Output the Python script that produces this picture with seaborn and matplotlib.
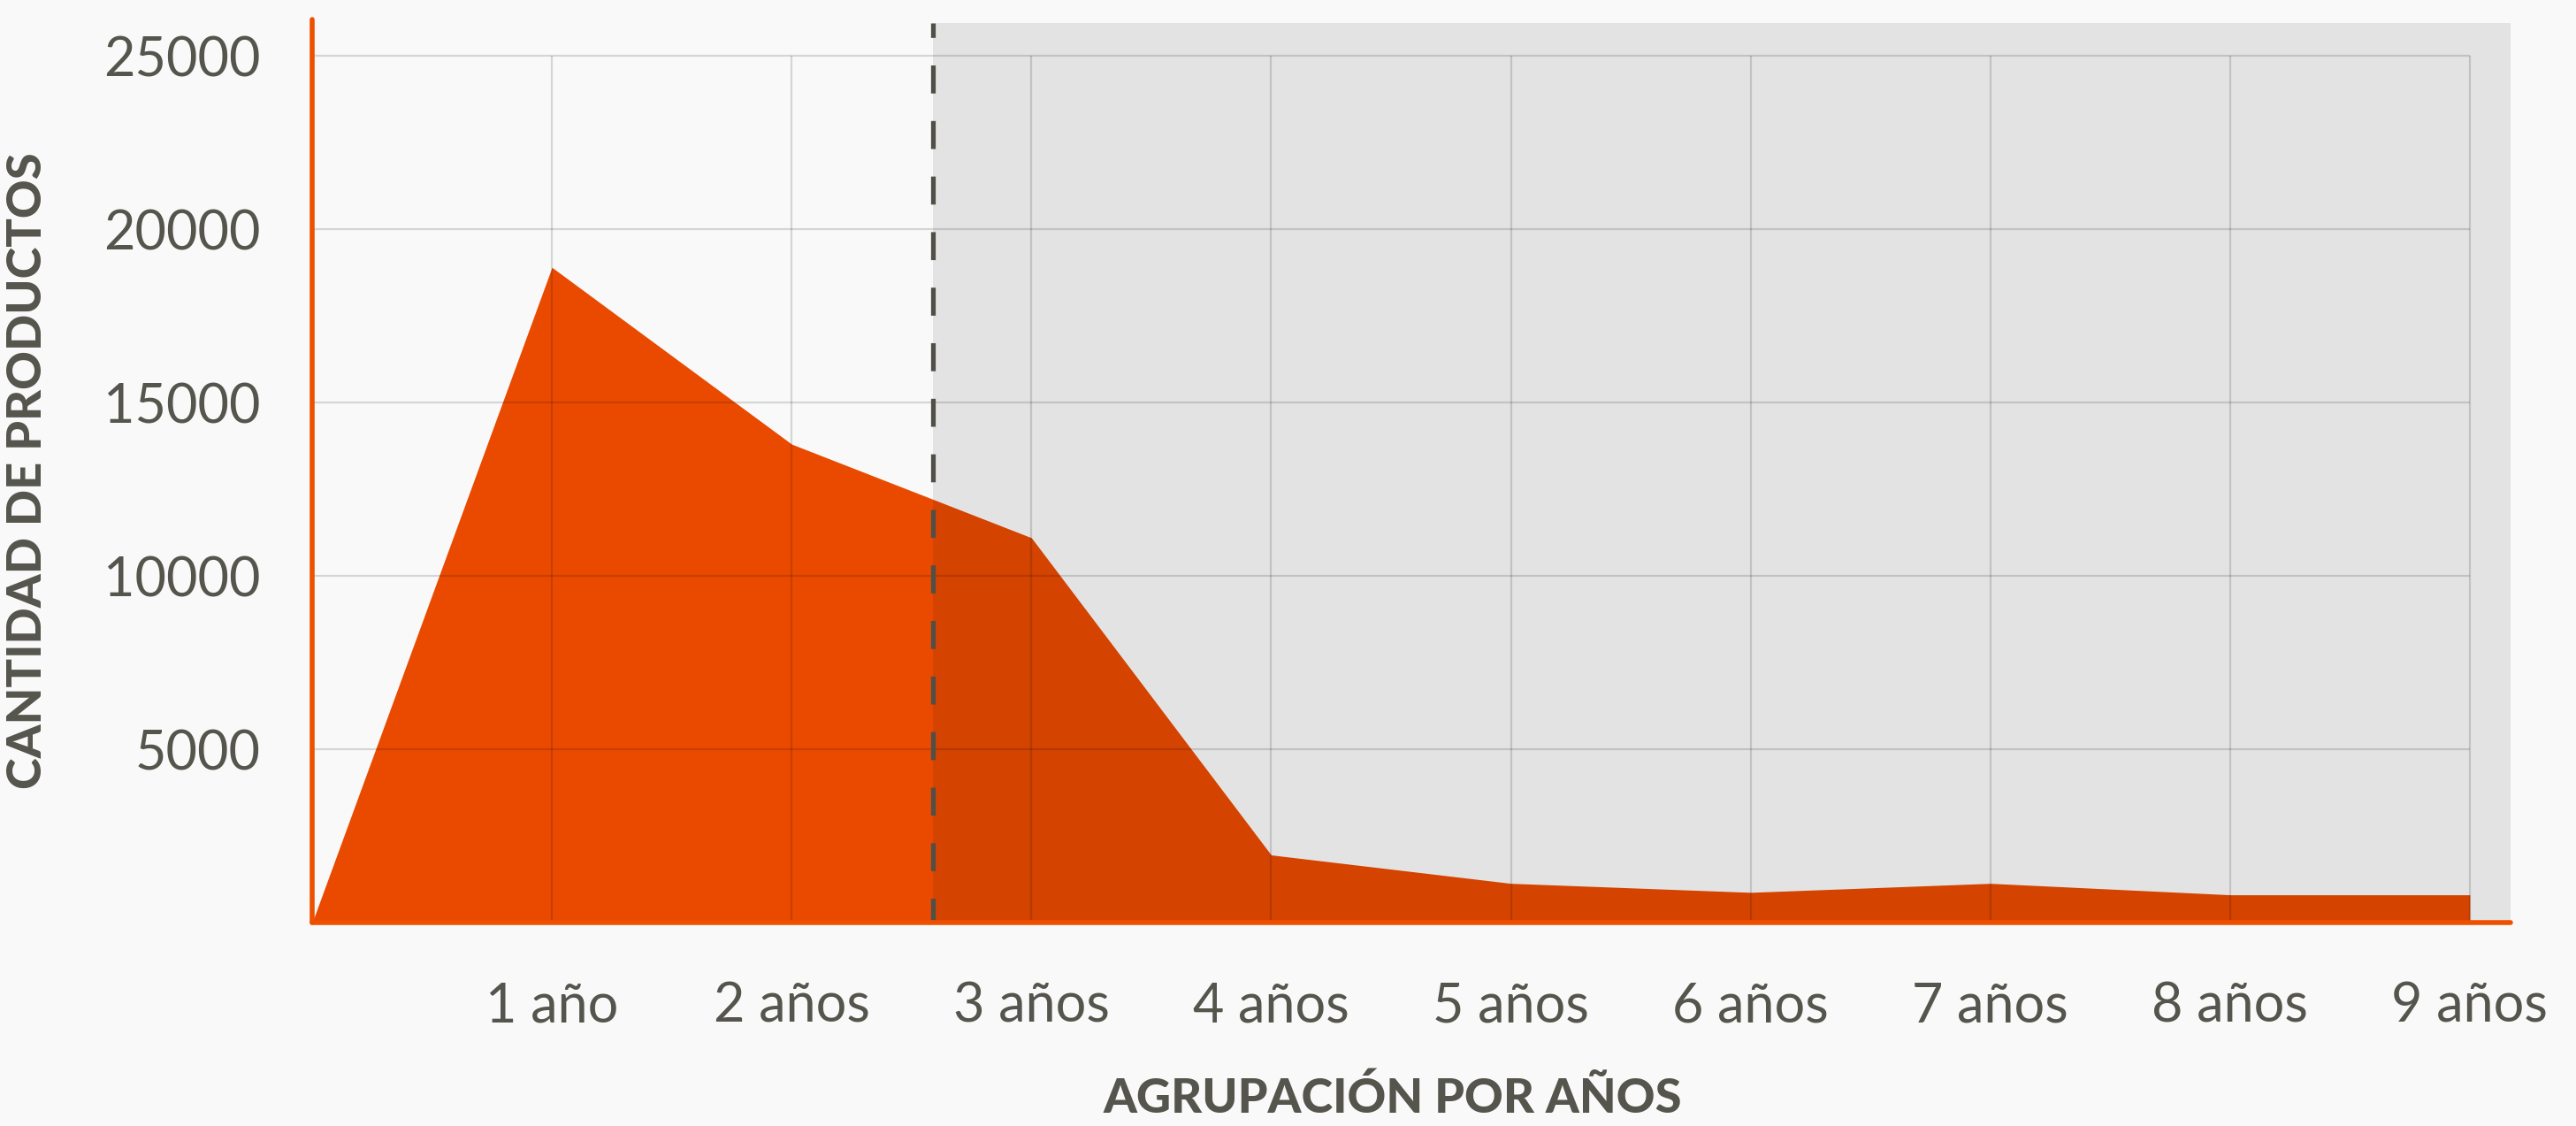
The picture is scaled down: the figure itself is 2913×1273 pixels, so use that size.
import matplotlib
matplotlib.use("Agg")
import matplotlib.pyplot as plt
import seaborn as sns
import pandas as pd

# -- data
years      = [0, 1, 2, 3, 4, 5, 6, 7, 8, 9]
products   = [0, 18900, 13800, 11100, 1950, 1130, 870, 1130, 800, 800]
tick_years = [1, 2, 3, 4, 5, 6, 7, 8, 9]
tick_names = ["1 año", "2 años", "3 años", "4 años", "5 años",
              "6 años", "7 años", "8 años", "9 años"]
y_ticks    = [5000, 10000, 15000, 20000, 25000]
cutoff     = 2.59

df = pd.DataFrame({"years": years, "products": products})

sns.set_theme(style="white")
plt.rcParams["font.family"] = ["Lato", "DejaVu Sans"]

BG     = "#f9f9f9"
ORANGE = "#e94a00"
SPINE  = "#ee5000"
TEXT   = "#55554d"

fig = plt.figure(figsize=(14.565, 6.365), dpi=200, facecolor=BG)
ax = fig.add_axes([0.1212, 0.1807, 0.8534, 0.8020])
ax.set_facecolor(BG)

# area
sns.lineplot(data=df, x="years", y="products", ax=ax, linewidth=0, color=ORANGE)
ax.fill_between(df["years"], df["products"], color=ORANGE, linewidth=0, zorder=1)
ax.plot([0, 9], [0, 0], color="#dd1a00", linewidth=1.6, zorder=5)

# shaded zone after cutoff
ax.axvspan(cutoff, 9.17, ymin=0, ymax=0.996, color="black", alpha=0.085,
           linewidth=0, zorder=2)

# grid
ax.hlines(y_ticks, 0, 9, color="black", alpha=0.14, linewidth=0.8, zorder=3)
ax.vlines(tick_years, 0, 25000, color="black", alpha=0.14, linewidth=0.8, zorder=3)

# cutoff line (drawn from the top down)
ax.plot([cutoff, cutoff], [25950, 0], color="#505048", linewidth=1.9,
        linestyle=(2.9, (6.0, 5.9)), solid_capstyle="butt", zorder=4)

ax.set_xlim(0, 9.17)
ax.set_ylim(0, 26050)

ax.set_xticks(tick_years)
ax.set_xticklabels(tick_names)
ax.set_yticks(y_ticks)
ax.set_yticklabels([str(v) for v in y_ticks])
ax.tick_params(axis="x", length=0, pad=24, labelsize=22, labelcolor=TEXT)
ax.tick_params(axis="y", length=0, pad=21, labelsize=22, labelcolor=TEXT)

for side in ["top", "right"]:
    ax.spines[side].set_visible(False)
for side in ["left", "bottom"]:
    ax.spines[side].set_color(SPINE)
    ax.spines[side].set_linewidth(2.0)
    ax.spines[side].set_capstyle("round")
    ax.spines[side].set_zorder(6)

ax.set_xlabel("AGRUPACIÓN POR AÑOS", fontsize=19.5, fontweight="black", color=TEXT)
ax.set_ylabel("CANTIDAD DE PRODUCTOS", fontsize=19.5, fontweight="black", color=TEXT)
ax.xaxis.set_label_coords(0.4916, -0.1704)
ax.yaxis.set_label_coords(-0.1195, 0.50)

plt.savefig("out.png", dpi=200, facecolor=BG)
